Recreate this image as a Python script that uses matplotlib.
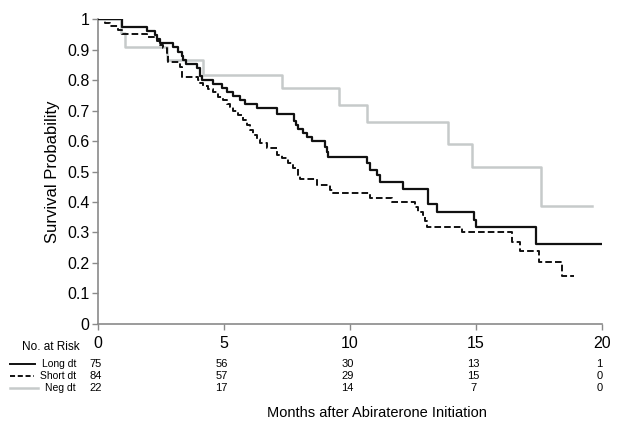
import matplotlib
matplotlib.use('Agg')
import matplotlib.pyplot as plt
import matplotlib.transforms as mtransforms
from matplotlib.lines import Line2D

plt.rcParams['font.family'] = ['Liberation Sans', 'DejaVu Sans']

# Kaplan-Meier steps (time in months, survival after the drop)
long_t = [0, 0.96, 1.96, 2.27, 2.35, 2.47, 3.0, 3.2, 3.33, 3.4, 3.5, 3.93, 4.06, 4.13,
          4.58, 4.92, 5.12, 5.38, 5.65, 5.85, 6.31, 7.1, 7.8, 7.87, 7.95, 8.16, 8.3,
          8.49, 9.02, 9.08, 9.14, 10.67, 10.8, 11.08, 11.2, 12.13, 13.09, 13.45,
          14.93, 15.01, 17.38, 20.0]
long_s = [1.0, 0.973, 0.96, 0.947, 0.933, 0.92, 0.907, 0.893, 0.88, 0.867, 0.853, 0.84,
          0.813, 0.80, 0.787, 0.773, 0.76, 0.747, 0.733, 0.72, 0.707, 0.69, 0.667, 0.653,
          0.64, 0.627, 0.613, 0.60, 0.58, 0.565, 0.549, 0.527, 0.505, 0.489, 0.467,
          0.441, 0.393, 0.368, 0.34, 0.317, 0.263, 0.263]

short_t = [0, 0.29, 0.49, 0.82, 0.96, 1.94, 2.34, 2.47, 2.6, 2.74, 2.8, 3.27, 3.33, 3.99,
           4.06, 4.19, 4.38, 4.59, 4.79, 4.98, 5.12, 5.25, 5.38, 5.58, 5.78, 5.91, 6.04,
           6.17, 6.31, 6.44, 6.71, 7.1, 7.3, 7.56, 7.76, 7.95, 8.03, 8.69, 9.22, 9.34,
           10.8, 11.67, 12.59, 12.72, 12.92, 12.99, 13.06, 14.44, 16.43, 16.76, 17.52,
           18.41, 18.9]
short_s = [1.0, 0.988, 0.976, 0.964, 0.952, 0.94, 0.928, 0.916, 0.904, 0.887, 0.86, 0.844,
           0.81, 0.80, 0.789, 0.78, 0.772, 0.762, 0.745, 0.734, 0.722, 0.712, 0.70, 0.685,
           0.669, 0.652, 0.636, 0.62, 0.606, 0.592, 0.576, 0.554, 0.543, 0.527, 0.51,
           0.49, 0.476, 0.456, 0.44, 0.428, 0.412, 0.401, 0.385, 0.368, 0.357, 0.338,
           0.319, 0.30, 0.27, 0.24, 0.204, 0.157, 0.157]

neg_t = [0, 0.92, 1.08, 2.75, 4.17, 7.33, 9.57, 10.67, 13.89, 14.84, 17.6, 19.6]
neg_s = [1.0, 0.955, 0.909, 0.864, 0.818, 0.773, 0.718, 0.663, 0.589, 0.516, 0.387, 0.387]

# numbers at risk
risk_times = [0, 5, 10, 15, 20]
risk_long = [75, 56, 30, 13, 1]
risk_short = [84, 57, 29, 15, 0]
risk_neg = [22, 17, 14, 7, 0]
group_names = ['Long dt', 'Short dt', 'Neg dt']

black = '#111111'
gray = '#c6caca'
spine = '#8a8a8a'

fig = plt.figure(figsize=(6.4, 4.36), dpi=100)
ax = fig.add_axes([0.1527, 0.2569, 0.7875, 0.6995])

ax.step(neg_t, neg_s, where='post', color=gray, lw=1.8, zorder=2)
ax.step(short_t, short_s, where='post', color=black, lw=1.4, ls=(0, (3.4, 1.6)), zorder=3)
ax.step(long_t, long_s, where='post', color=black, lw=1.6, zorder=4)

ax.set_xlim(0, 20)
ax.set_ylim(0, 1)
ax.set_xticks(risk_times)
ax.set_yticks([i / 10 for i in range(11)])
ax.set_yticklabels(['0'] + ['%.1f' % (i / 10) for i in range(1, 10)] + ['1'])
for s in ['top', 'right']:
    ax.spines[s].set_visible(False)
for s in ['left', 'bottom']:
    ax.spines[s].set_color(spine)
    ax.spines[s].set_linewidth(1.2)
ax.tick_params(axis='both', colors=spine, labelcolor='black', labelsize=11.5, length=4, width=1)
ax.tick_params(axis='x', pad=5)
ax.tick_params(axis='y', pad=2)
ax.set_ylabel('Survival Probability', fontsize=12, labelpad=5)

# risk table
trans = mtransforms.blended_transform_factory(ax.transData, fig.transFigure)
narrow = ['Liberation Sans Narrow', 'Liberation Sans', 'DejaVu Sans']
fig.text(80 / 640, 1 - 347 / 436, 'No. at Risk', ha='right', va='center', fontsize=8.5, family=narrow)

rows = [risk_long, risk_short, risk_neg]
row_y = [364, 376, 388]
styles = [dict(color=black, lw=1.4), dict(color=black, lw=1.4, ls=(0, (2.6, 1.4))), dict(color=gray, lw=1.8)]
line_end = [35, 34, 38]
for name, vals, y, st, le in zip(group_names, rows, row_y, styles, line_end):
    fy = 1 - y / 436
    fig.add_artist(Line2D([10 / 640, le / 640], [fy, fy], transform=fig.transFigure, **st))
    fig.text(76 / 640, fy, name, ha='right', va='center', fontsize=7.5, family=narrow)
    for t, v in zip(risk_times, vals):
        ax.text(t - 0.08, fy, str(v), transform=trans, ha='center', va='center', fontsize=8,
                family=narrow, clip_on=False)

fig.text(377 / 640, 1 - 413 / 436, 'Months after Abiraterone Initiation', ha='center', va='center',
         fontsize=10.5, family=narrow)

fig.savefig('out.png', dpi=100)
